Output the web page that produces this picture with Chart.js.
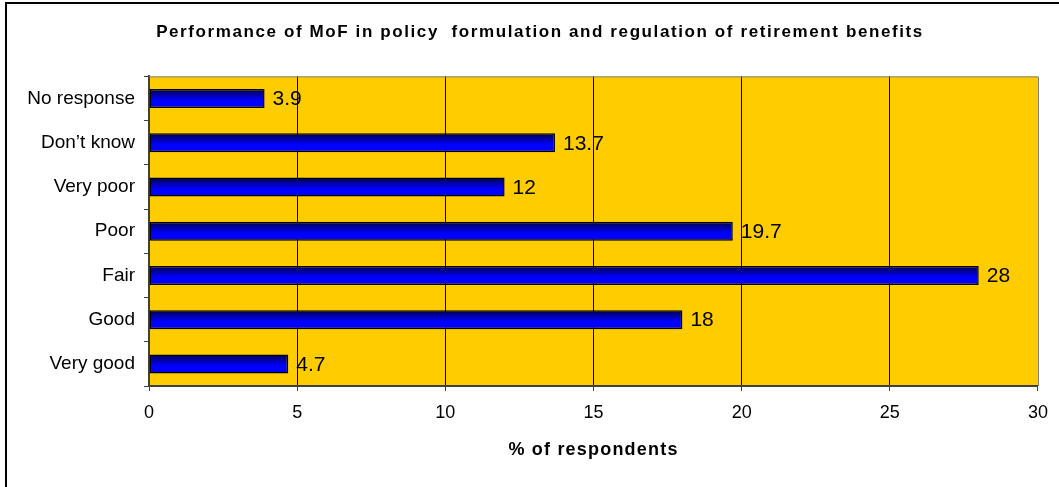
<!DOCTYPE html>
<html>
<head>
<meta charset="utf-8">
<script src="https://cdn.jsdelivr.net/npm/chart.js@4/dist/chart.umd.min.js"></script>
<style>
  html, body { margin: 0; padding: 0; background: #ffffff; }
  canvas { display: block; }
</style>
</head>
<body>
<canvas id="c" width="1059" height="487"></canvas>
<script>
const categories = ["No response", "Don\u2019t know", "Very poor", "Poor", "Fair", "Good", "Very good"];
const values = [3.9, 13.7, 12, 19.7, 28, 18, 4.7];
const valueLabels = ["3.9", "13.7", "12", "19.7", "28", "18", "4.7"];
const xTicks = [0, 5, 10, 15, 20, 25, 30];
const chartTitle = "Performance of MoF in policy  formulation and regulation of retirement benefits";
const xAxisTitle = "% of respondents";

const FONT = "Arial, 'Liberation Sans', sans-serif";

const framePlugin = {
  id: 'frame',
  beforeDraw(chart) {
    const ctx = chart.ctx, a = chart.chartArea;
    ctx.save();
    ctx.fillStyle = '#ffffff';
    ctx.fillRect(0, 0, chart.width, chart.height);
    ctx.fillStyle = '#FFCC00';
    ctx.fillRect(a.left, a.top, a.right - a.left, a.bottom - a.top);
    ctx.restore();
  },
  afterDraw(chart) {
    const ctx = chart.ctx, a = chart.chartArea;
    ctx.save();
    ctx.strokeStyle = '#808080';
    ctx.lineWidth = 1;
    ctx.beginPath();
    ctx.moveTo(a.left, a.top + 0.5);
    ctx.lineTo(a.right + 0.5, a.top + 0.5);
    ctx.lineTo(a.right + 0.5, a.bottom);
    ctx.stroke();
    ctx.strokeStyle = '#000000';
    ctx.lineWidth = 2;
    ctx.strokeRect(6, 3, chart.width + 20, chart.height + 20);
    ctx.restore();
  }
};

const labelPlugin = {
  id: 'valueLabels',
  afterDatasetsDraw(chart) {
    const ctx = chart.ctx;
    const meta = chart.getDatasetMeta(0);
    ctx.save();
    ctx.fillStyle = '#000000';
    ctx.font = "21px " + FONT;
    ctx.textAlign = 'left';
    ctx.textBaseline = 'middle';
    meta.data.forEach((bar, i) => {
      ctx.fillText(valueLabels[i], bar.x + 8, bar.y + 1);
    });
    ctx.restore();
  }
};

function barGradient(context) {
  const chart = context.chart;
  const y = chart.scales && chart.scales.y;
  if (!y || context.dataIndex === undefined) return '#0000ff';
  const c = y.getPixelForValue(context.dataIndex);
  if (!isFinite(c)) return '#0000ff';
  const half = 9.5;
  const g = chart.ctx.createLinearGradient(0, c - half, 0, c + half);
  g.addColorStop(0, '#000048');
  g.addColorStop(0.6, '#0000ff');
  g.addColorStop(1, '#0000ff');
  return g;
}

function spaced(obj, method, spacing, dx) {
  const orig = obj[method];
  obj[method] = function () {
    const ctx = this.ctx;
    const prev = ctx.letterSpacing;
    ctx.save();
    ctx.translate(dx || 0, 0);
    ctx.letterSpacing = spacing;
    try { return orig.apply(this, arguments); }
    finally { ctx.letterSpacing = prev || '0px'; ctx.restore(); }
  };
}

const chart = new Chart(document.getElementById('c'), {
  type: 'bar',
  data: {
    labels: categories,
    datasets: [{
      data: values,
      backgroundColor: barGradient,
      borderColor: '#000000',
      borderWidth: 1.5,
      borderSkipped: false,
      barPercentage: 0.43,
      categoryPercentage: 1.0
    }]
  },
  options: {
    indexAxis: 'y',
    responsive: false,
    animation: false,
    layout: { padding: { left: 0, right: 20, top: 0, bottom: 0 } },
    plugins: {
      legend: { display: false },
      tooltip: { enabled: false },
      title: {
        display: true,
        text: chartTitle,
        color: '#000000',
        font: { family: FONT, size: 17, weight: 'bold', lineHeight: 1.2 },
        padding: { top: 22, bottom: 34 }
      }
    },
    scales: {
      x: {
        type: 'linear',
        min: 0,
        max: 30,
        afterBuildTicks(scale) { scale.ticks = xTicks.map(v => ({ value: v })); },
        afterFit(scale) { scale.height = 101; },
        border: { display: true, color: '#404040', width: 2 },
        grid: {
          drawOnChartArea: true,
          drawTicks: true,
          tickLength: 5,
          tickColor: '#404040',
          color: (ctx) => (ctx.tick && (ctx.tick.value === 30 || ctx.tick.value === 0)) ? 'rgba(0,0,0,0)' : '#000000',
          lineWidth: 1
        },
        ticks: {
          color: '#000000',
          font: { family: FONT, size: 18 },
          padding: 11,
          maxRotation: 0,
          callback: (v) => String(v)
        },
        title: {
          display: true,
          text: xAxisTitle,
          color: '#000000',
          font: { family: FONT, size: 18, weight: 'bold', lineHeight: 1.2 },
          padding: { top: 0, bottom: 26 }
        }
      },
      y: {
        type: 'category',
        afterFit(scale) { scale.width = 149; },
        border: { display: true, color: '#404040', width: 2 },
        grid: {
          drawOnChartArea: false,
          drawTicks: true,
          tickLength: 5,
          tickColor: '#404040',
          offset: true
        },
        ticks: {
          color: '#000000',
          font: { family: FONT, size: 19 },
          padding: 9
        }
      }
    }
  },
  plugins: [framePlugin, labelPlugin]
});

// Letter-spaced title texts, as in the reference rendering
if (chart.titleBlock) spaced(chart.titleBlock, 'draw', '1.6px', 20.5);
if (chart.scales.x) spaced(chart.scales.x, 'drawTitle', '1.2px', 0);
chart.draw();
</script>
</body>
</html>
